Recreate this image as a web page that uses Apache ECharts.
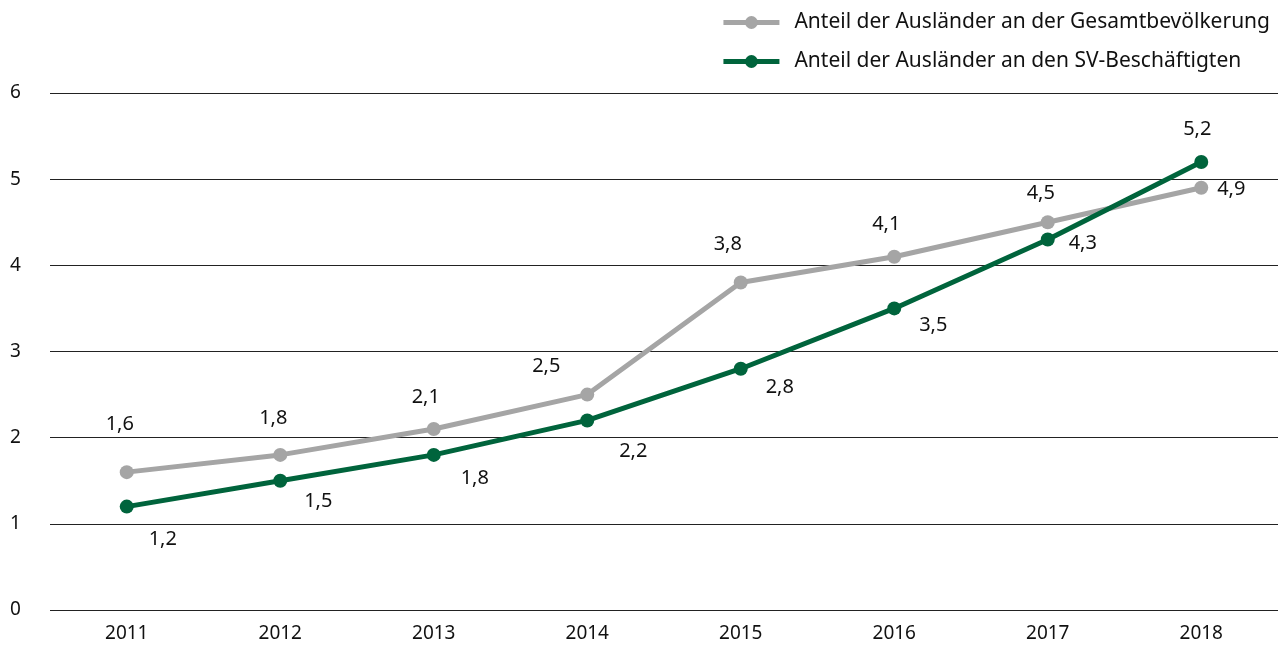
<!DOCTYPE html>
<html>
<head>
    <meta charset="utf-8">
    <title>Ausländeranteil</title>
    <script src="https://cdn.jsdelivr.net/npm/echarts@6/dist/echarts.min.js"></script>
    <style>
        body { margin: 0; background: #fff; }
    </style>
</head>
<body>
    <div id="main" style="width: 1284px;height:645px;"></div>
    <script type="text/javascript">
        var years = ['2011', '2012', '2013', '2014', '2015', '2016', '2017', '2018'];
        var anteilBevoelkerung = [1.6, 1.8, 2.1, 2.5, 3.8, 4.1, 4.5, 4.9];
        var anteilBeschaeftigte = [1.2, 1.5, 1.8, 2.2, 2.8, 3.5, 4.3, 5.2];
        var nameBevoelkerung = 'Anteil der Ausländer an der Gesamtbevölkerung';
        var nameBeschaeftigte = 'Anteil der Ausländer an den SV-Beschäftigten';

        // label offsets (px) relative to the point, like in the original
        var offsBev = [[-7, -48], [-7, -37], [-8, -32], [-41, -28], [-13, -38], [-8, -32], [-7, -29], [30, 2]];
        var offsBes = [[36, 33], [38, 21], [41, 23], [46, 31], [39, 19], [39, 17], [35, 4], [-4, -33]];

        var fontFam = '"Noto Sans", sans-serif';
        var fmt = function (v) { return String(v).replace('.', ','); };

        function build(values, offs) {
            return values.map(function (v, i) {
                return {
                    value: v,
                    label: { offset: offs[i] }
                };
            });
        }

        var myChart = echarts.init(document.getElementById('main'));
        var option = {
            animation: false,
            textStyle: { fontFamily: fontFam },
            legend: {
                orient: 'vertical',
                right: 9,
                top: 7,
                itemWidth: 56,
                itemHeight: 16,
                itemGap: 18,
                lineStyle: { width: 5 },
                textStyle: { fontSize: 21, color: '#111', fontFamily: fontFam, padding: [0, 0, 0, 10] },
                data: [nameBevoelkerung, nameBeschaeftigte]
            },
            grid: { left: 50, right: 6, top: 93, bottom: 35 },
            xAxis: {
                type: 'category',
                data: years,
                boundaryGap: true,
                axisLine: { show: false },
                axisTick: { show: false },
                axisLabel: { fontSize: 19, color: '#111', margin: 14 }
            },
            yAxis: {
                type: 'value',
                min: 0,
                max: 6,
                interval: 1,
                axisLabel: { fontSize: 19, color: '#111', margin: 40, align: 'left' },
                splitLine: { lineStyle: { color: '#222', width: 1 } }
            },
            series: [
                {
                    name: nameBevoelkerung,
                    type: 'line',
                    data: build(anteilBevoelkerung, offsBev),
                    symbol: 'circle',
                    symbolSize: 14,
                    lineStyle: { width: 5, color: '#a5a5a5' },
                    itemStyle: { color: '#a5a5a5' },
                    label: {
                        show: true,
                        position: 'inside',
                        fontSize: 20,
                        color: '#111',
                        formatter: function (p) { return fmt(p.value); }
                    }
                },
                {
                    name: nameBeschaeftigte,
                    type: 'line',
                    data: build(anteilBeschaeftigte, offsBes),
                    symbol: 'circle',
                    symbolSize: 14,
                    lineStyle: { width: 5, color: '#00643c' },
                    itemStyle: { color: '#00643c' },
                    label: {
                        show: true,
                        position: 'inside',
                        fontSize: 20,
                        color: '#111',
                        formatter: function (p) { return fmt(p.value); }
                    }
                }
            ]
        };
        myChart.setOption(option);
    </script>
</body>
</html>
